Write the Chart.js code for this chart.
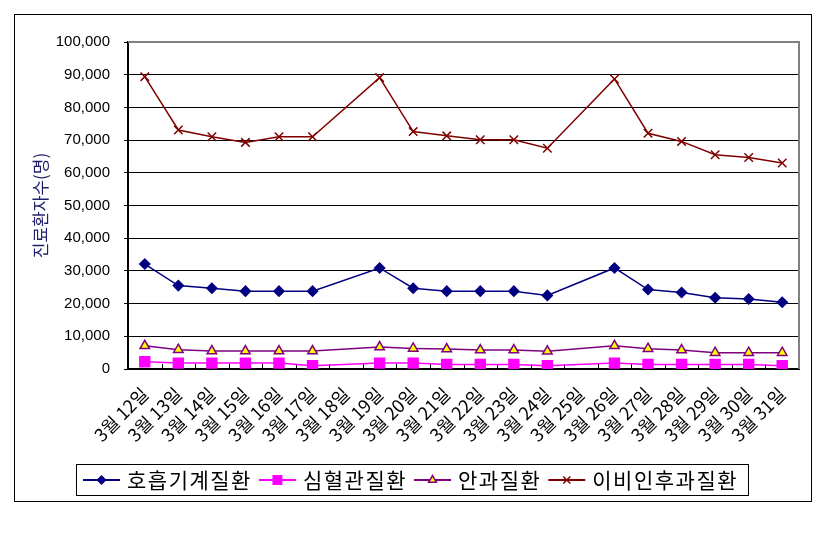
<!DOCTYPE html>
<html>
<head>
<meta charset="utf-8">
<script src="https://cdn.jsdelivr.net/npm/chart.js@4"></script>
<style>
  body { margin: 0; background: #fff; }
  canvas { display: block; }
</style>
</head>
<body>
<canvas id="grafico" width="838" height="534"></canvas>
<script>
// 날짜 (18일, 25일 = 일요일, 값 없음)
const dias = ['3월 12일', '3월 13일', '3월 14일', '3월 15일', '3월 16일', '3월 17일', '3월 18일',
  '3월 19일', '3월 20일', '3월 21일', '3월 22일', '3월 23일', '3월 24일', '3월 25일',
  '3월 26일', '3월 27일', '3월 28일', '3월 29일', '3월 30일', '3월 31일'];

const respiratorio = [32100, 25500, 24700, 23800, 23800, 23800, null, 30900, 24700, 23800,
  23800, 23800, 22500, null, 30900, 24300, 23400, 21800, 21400, 20400];
const cardiovascular = [2200, 1800, 1800, 1800, 1800, 1000, null, 1800, 1800, 1400,
  1400, 1400, 1000, null, 1800, 1400, 1400, 1400, 1400, 1000];
const oftalmo = [7100, 5900, 5500, 5500, 5500, 5500, null, 6700, 6300, 6100,
  5800, 5800, 5400, null, 7100, 6200, 5800, 5000, 5000, 5000];
const otorrino = [89400, 73100, 71000, 69300, 71000, 71000, null, 89100, 72600, 71300,
  70100, 70100, 67500, null, 88700, 72100, 69600, 65500, 64700, 63000];

const nomes = ['호흡기계질환', '심혈관질환', '안과질환', '이비인후과질환'];
const yTicks = [0, 10000, 20000, 30000, 40000, 50000, 60000, 70000, 80000, 90000, 100000];

const FONTE_KR = '"Noto Sans CJK KR", sans-serif';
const FONTE_NUM = '"Liberation Sans", sans-serif';

// moldura externa
const moldura = {
  id: 'moldura',
  beforeDraw(c) {
    const ctx = c.ctx;
    ctx.save();
    ctx.fillStyle = '#fff';
    ctx.fillRect(0, 0, c.width, c.height);
    ctx.strokeStyle = '#000';
    ctx.lineWidth = 1;
    ctx.strokeRect(14.5, 14.5, 797, 487);
    ctx.restore();
  }
};

// borda cinza (topo/direita) + marcas internas do eixo x
const areaPlot = {
  id: 'areaPlot',
  beforeDatasetsDraw(c) {
    const {ctx, chartArea: a, scales: {x}} = c;
    ctx.save();
    ctx.strokeStyle = '#808080';
    ctx.lineWidth = 2;
    ctx.beginPath();
    ctx.moveTo(a.left, a.top);
    ctx.lineTo(a.right, a.top);
    ctx.lineTo(a.right, a.bottom);
    ctx.stroke();
    ctx.strokeStyle = '#000';
    ctx.lineWidth = 1;
    const passo = (x.getPixelForValue(1) - x.getPixelForValue(0));
    ctx.beginPath();
    for (let i = 1; i < dias.length; i++) {
      const px = Math.round(x.getPixelForValue(i) - passo / 2) + 0.5;
      ctx.moveTo(px, a.bottom);
      ctx.lineTo(px, a.bottom - 5);
    }
    ctx.stroke();
    ctx.restore();
  }
};

// legenda desenhada à mão
const legenda = {
  id: 'legenda',
  afterDraw(c) {
    const ctx = c.ctx;
    ctx.save();
    ctx.strokeStyle = '#000';
    ctx.lineWidth = 1;
    ctx.strokeRect(76.5, 464.5, 672, 31);
    let x = 83;
    const y = 480;
    ctx.font = '21px ' + FONTE_KR;
    ctx.letterSpacing = '1.5px';
    ctx.textBaseline = 'middle';
    c.data.datasets.forEach(ds => {
      ctx.strokeStyle = ds.borderColor;
      ctx.lineWidth = 2;
      ctx.beginPath();
      ctx.moveTo(x, y);
      ctx.lineTo(x + 37, y);
      ctx.stroke();
      ctx.fillStyle = ds.pointBackgroundColor;
      ctx.strokeStyle = ds.pointBorderColor;
      ctx.lineWidth = 1.5;
      Chart.helpers.drawPoint(ctx, {
        pointStyle: ds.pointStyle, radius: ds.legendRadius, rotation: 0, borderWidth: 1.5
      }, x + 18.5, y);
      x += 44;
      ctx.fillStyle = '#000';
      ctx.fillText(ds.label, x, y);
      x += ctx.measureText(ds.label).width + 7;
    });
    ctx.restore();
  }
};

const ctx = document.getElementById('grafico');

new Chart(ctx, {
  type: 'line',
  data: {
    labels: dias,
    datasets: [{
      label: nomes[0],
      data: respiratorio,
      borderColor: '#000080',
      pointBackgroundColor: '#000080',
      pointBorderColor: '#000080',
      pointStyle: 'rectRot',
      pointRadius: 5,
      legendRadius: 4,
      borderWidth: 1.5
    }, {
      label: nomes[1],
      data: cardiovascular,
      borderColor: '#FF00FF',
      pointBackgroundColor: '#FF00FF',
      pointBorderColor: '#FF00FF',
      pointStyle: 'rect',
      pointRadius: 7,
      legendRadius: 6,
      borderWidth: 1.5
    }, {
      label: nomes[2],
      data: oftalmo,
      borderColor: '#800080',
      pointBackgroundColor: '#FFFF00',
      pointBorderColor: '#800080',
      pointStyle: 'triangle',
      pointRadius: 5.5,
      legendRadius: 4.5,
      pointBorderWidth: 1.5,
      borderWidth: 1.5
    }, {
      label: nomes[3],
      data: otorrino,
      borderColor: '#800000',
      pointBackgroundColor: '#800000',
      pointBorderColor: '#800000',
      pointStyle: 'crossRot',
      pointRadius: 6,
      legendRadius: 5,
      pointBorderWidth: 1.5,
      borderWidth: 1.5
    }]
  },
  options: {
    responsive: false,
    animation: false,
    spanGaps: true,
    layout: { padding: { top: 42, right: 39, left: 0, bottom: 0 } },
    plugins: {
      legend: { display: false },
      tooltip: { enabled: false }
    },
    scales: {
      x: {
        offset: true,
        afterFit(s) { s.height = 165; },
        grid: { display: false, offset: true },
        border: { color: '#000', width: 2 },
        ticks: {
          color: '#000',
          autoSkip: false,
          minRotation: 45,
          maxRotation: 45,
          padding: 6,
          font: { family: FONTE_KR, size: 18 }
        }
      },
      y: {
        min: 0,
        max: 100000,
        afterFit(s) { s.width = 128; },
        afterBuildTicks(s) { s.ticks = yTicks.map(v => ({ value: v })); },
        grid: { color: '#000', lineWidth: 1, tickLength: 4 },
        border: { color: '#000', width: 2 },
        ticks: {
          color: '#000',
          padding: 14,
          font: { family: FONTE_NUM, size: 15 },
          callback: v => v.toLocaleString('en-US')
        },
        title: {
          display: true,
          text: '진료환자수(명)',
          color: '#1f1f6b',
          padding: { top: 30 },
          font: { family: FONTE_KR, size: 17 }
        }
      }
    }
  },
  plugins: [moldura, areaPlot, legenda]
});
</script>
</body>
</html>
